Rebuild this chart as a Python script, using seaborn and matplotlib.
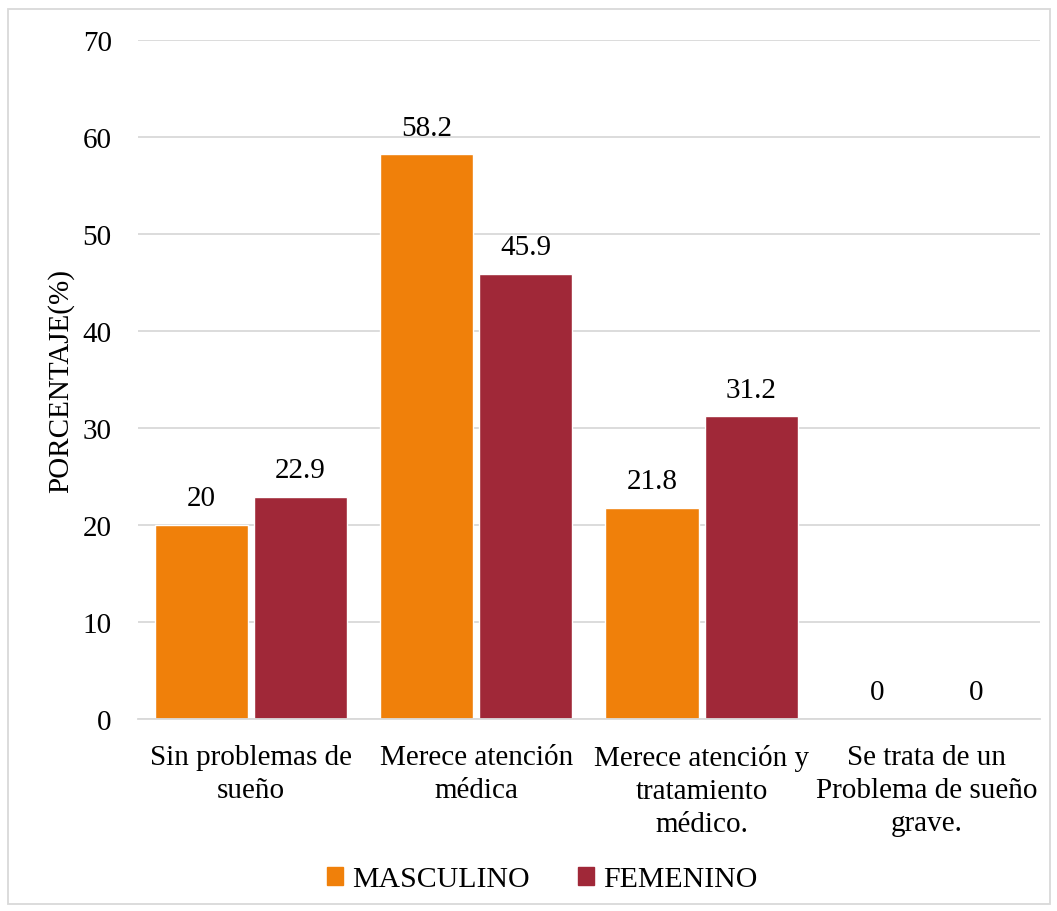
import matplotlib
matplotlib.use("Agg")
import matplotlib.pyplot as plt
import seaborn as sns
import pandas as pd
from matplotlib.patches import Rectangle

categories = ["Sin problemas de\nsueño", "Merece atención\nmédica",
              "Merece atención y\ntratamiento\nmédico.", "Se trata de un\nProblema de sueño\ngrave."]
masculino = [20, 58.2, 21.8, 0]
femenino = [22.9, 45.9, 31.2, 0]
series = ["MASCULINO", "FEMENINO"]
colors = ["#F0800A", "#A02838"]
yticks = [0, 10, 20, 30, 40, 50, 60, 70]

df = pd.DataFrame({
    "cat": categories * 2,
    "val": masculino + femenino,
    "sex": [series[0]] * 4 + [series[1]] * 4,
})

sns.set_theme(style="white")
plt.rcParams['font.family'] = ['Liberation Serif', 'DejaVu Serif']
plt.rcParams['text.color'] = 'black'
plt.rcParams['xtick.color'] = 'black'
plt.rcParams['ytick.color'] = 'black'
plt.rcParams['axes.labelcolor'] = 'black'

FS = 21

fig = plt.figure(figsize=(10.57, 9.12), dpi=100)
ax = fig.add_axes([0.1306, 0.2105, 0.853, 0.7445])
sns.barplot(data=df, x="cat", y="val", hue="sex", palette=colors, width=0.88,
            gap=0.06, ax=ax, saturation=1, legend=True)

ax.set_ylim(0, 70)
ax.set_yticks(yticks)
ax.set_yticklabels([str(t) for t in yticks], fontsize=FS)
ax.set_xticks(range(4))
ax.set_xticklabels(categories, fontsize=FS, linespacing=1.35)
ax.tick_params(axis='x', length=0, pad=18)
ax.tick_params(axis='y', length=0, pad=19)
ax.yaxis.grid(True, color="#D9D9D9", linewidth=1.3)
ax.set_axisbelow(True)
for s in ["top", "right", "left"]:
    ax.spines[s].set_visible(False)
ax.spines["bottom"].set_color("#D9D9D9")
ax.spines["bottom"].set_linewidth(1.3)
ax.set_xlabel("")
ax.set_ylabel("PORCENTAJE(%)", fontsize=FS, labelpad=6)
ax.set_xlim(-0.5, 3.5)

for cont in ax.containers:
    ax.bar_label(cont, labels=[f"{v:g}" for v in cont.datavalues], padding=10, fontsize=FS)

ax.get_legend().remove()
handles = [Rectangle((0, 0), 1, 1, color=c) for c in colors]
fig.legend(handles, series, loc="center", bbox_to_anchor=(0.513, 0.035), ncol=2,
           frameon=False, fontsize=FS + 0.5, handlelength=0.55, handleheight=0.55,
           handletextpad=0.3, columnspacing=1.6)

fig.patches.append(Rectangle((8 / 1057, 7 / 912), 1042 / 1057, 895 / 912,
                             transform=fig.transFigure, fill=False,
                             edgecolor="#D9D9D9", linewidth=1.3))

fig.savefig("out.png", dpi=100)
